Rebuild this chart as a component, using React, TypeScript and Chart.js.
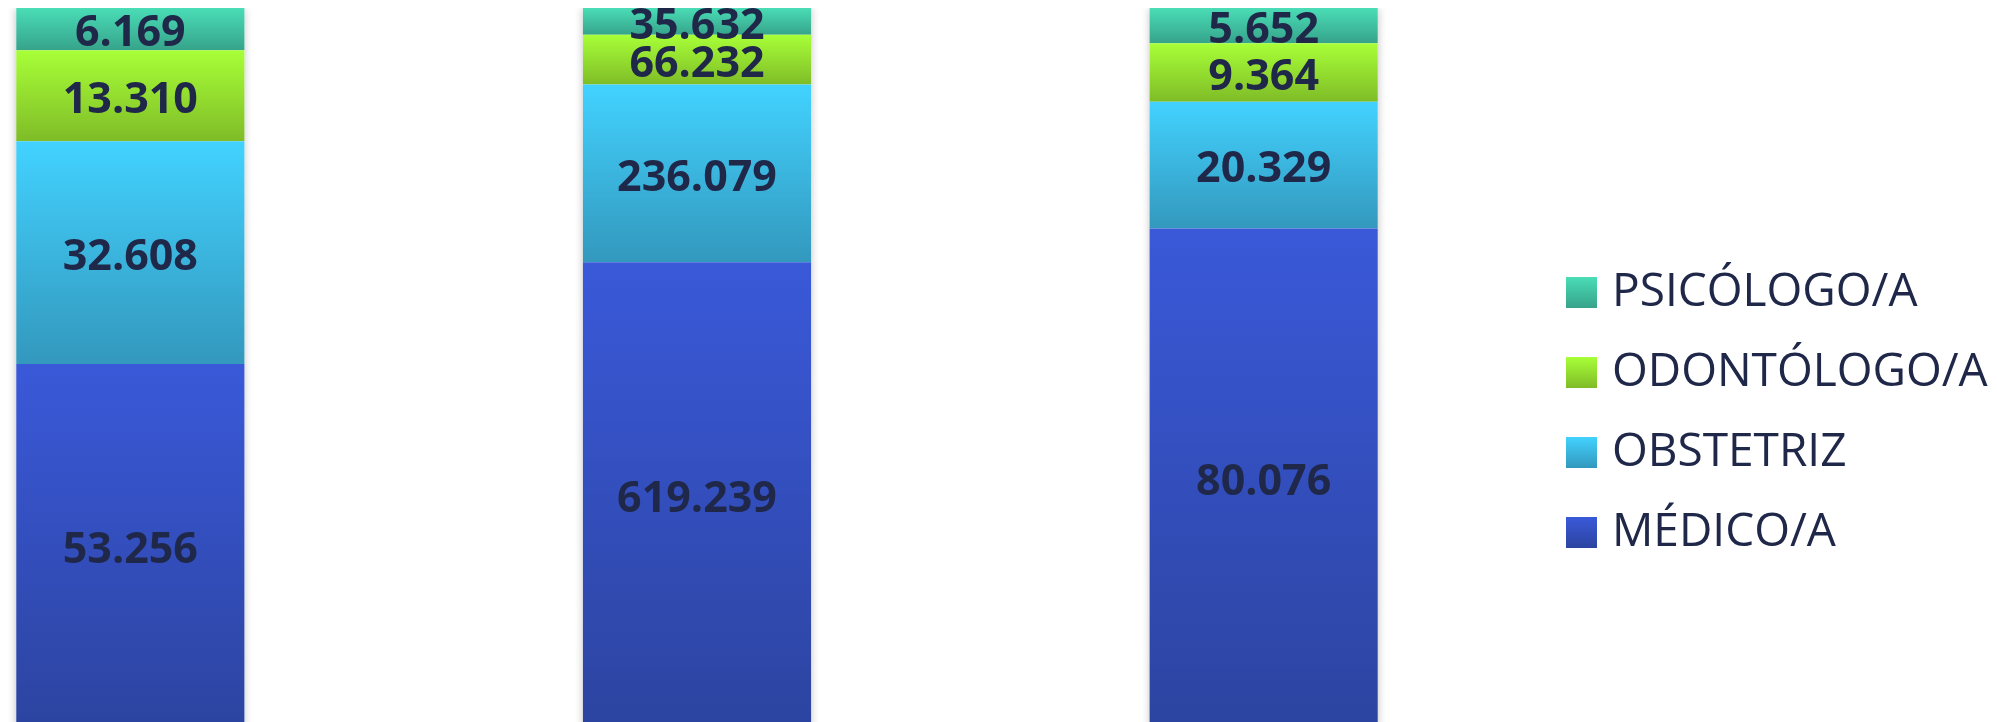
import React, { useEffect, useRef } from "react";
import { Chart, registerables } from "chart.js";

Chart.register(...registerables);

const categories = ["A", "B", "C"];
const seriesNames = ["MÉDICO/A", "OBSTETRIZ", "ODONTÓLOGO/A", "PSICÓLOGO/A"];
const medico = [53256, 619239, 80076];
const obstetriz = [32608, 236079, 20329];
const odontologo = [13310, 66232, 9364];
const psicologo = [6169, 35632, 5652];
const topColors = ["#3A59D9", "#42D2FF", "#A8FF38", "#4ADDB6"];
const bottomColors = ["#2C44A0", "#3398BD", "#7FBC27", "#36A38B"];

const rawSeries = [medico, obstetriz, odontologo, psicologo];
const totals = categories.map((_, i) => rawSeries.reduce((s, a) => s + a[i], 0));
const pctSeries = rawSeries.map((arr) => arr.map((v, i) => (v / totals[i]) * 100));

const fmt = (v: number) => {
  const s = String(Math.round(v));
  return s.replace(/\B(?=(\d{3})+(?!\d))/g, ".");
};

const CANVAS_W = 2200;
const CANVAS_H = 809;
const PLOT_W = 1700;
const LEGEND_FONT = 46;
const LEGEND_PAD = 34;
const POINT_W = 8;

function makeLegendImage(d: number): HTMLCanvasElement {
  const c = document.createElement("canvas");
  c.width = 40;
  c.height = 31;
  const g = c.getContext("2d")!;
  const grad = g.createLinearGradient(0, 0, 0, 31);
  grad.addColorStop(0, topColors[d]);
  grad.addColorStop(1, bottomColors[d]);
  g.fillStyle = grad;
  g.fillRect(1, 0, 31, 31);
  return c;
}

export default function App() {
  const ref = useRef<HTMLCanvasElement | null>(null);

  useEffect(() => {
    if (!ref.current) return;
    const images = seriesNames.map((_, d) => makeLegendImage(d));

    const mctx = document.createElement("canvas").getContext("2d")!;
    mctx.font = `normal ${LEGEND_FONT}px 'Open Sans'`;
    const maxText = Math.max(...seriesNames.map((s) => mctx.measureText(s).width));
    const legendW = LEGEND_PAD + POINT_W + LEGEND_FONT / 2 + maxText + 10;
    const padRight = Math.max(0, CANVAS_W - PLOT_W - legendW);

    const shadowPlugin = {
      id: "barShadow",
      beforeDatasetsDraw(chart: any) {
        const ctx = chart.ctx;
        const first = chart.getDatasetMeta(0);
        const last = chart.getDatasetMeta(seriesNames.length - 1);
        ctx.save();
        ctx.shadowColor = "rgba(0,0,0,0.28)";
        ctx.shadowBlur = 9;
        ctx.fillStyle = "#ffffff";
        first.data.forEach((el: any, i: number) => {
          const top = last.data[i].y;
          const bottom = el.base;
          ctx.fillRect(el.x - el.width / 2, top, el.width, bottom - top);
        });
        ctx.restore();
      },
    };

    const labelPlugin = {
      id: "valueLabels",
      afterDatasetsDraw(chart: any) {
        const ctx = chart.ctx;
        ctx.save();
        ctx.font = "bold 43px 'Open Sans'";
        ctx.fillStyle = "#20284A";
        ctx.textAlign = "center";
        ctx.textBaseline = "middle";
        rawSeries.forEach((arr, d) => {
          const meta = chart.getDatasetMeta(d);
          meta.data.forEach((el: any, i: number) => {
            const p = el.getCenterPoint();
            ctx.fillText(fmt(arr[i]), p.x, p.y + 5);
          });
        });
        ctx.restore();
      },
    };

    const chart = new Chart(ref.current, {
      type: "bar",
      data: {
        labels: categories,
        datasets: seriesNames.map((name, d) => ({
          label: name,
          data: pctSeries[d],
          borderWidth: 0,
          backgroundColor: (c: any) => {
            const ch = c.chart;
            const y = ch.scales && ch.scales.y;
            if (!y || c.type !== "data") return topColors[d];
            const i = c.dataIndex;
            let base = 0;
            for (let k = 0; k < d; k++) base += pctSeries[k][i];
            const y0 = y.getPixelForValue(base + pctSeries[d][i]);
            const y1 = y.getPixelForValue(base);
            if (!isFinite(y0) || !isFinite(y1) || y0 === y1) return topColors[d];
            const g = ch.ctx.createLinearGradient(0, y0, 0, y1);
            g.addColorStop(0, topColors[d]);
            g.addColorStop(1, bottomColors[d]);
            return g;
          },
        })),
      },
      options: {
        animation: false,
        responsive: false,
        maintainAspectRatio: false,
        layout: { padding: { left: 0, top: 0, bottom: 0, right: padRight } },
        datasets: {
          bar: { categoryPercentage: 1, barPercentage: 0.4026 },
        },
        scales: {
          x: { stacked: true, display: false },
          y: { stacked: true, display: false, min: -12.36, max: 100 },
        },
        plugins: {
          tooltip: { enabled: false },
          legend: {
            display: true,
            position: "right",
            align: "center",
            reverse: true,
            maxWidth: 1000,
            labels: {
              usePointStyle: true,
              pointStyleWidth: POINT_W,
              boxHeight: 31,
              padding: LEGEND_PAD,
              color: "#20284A",
              font: { family: "'Open Sans'", size: LEGEND_FONT },
              generateLabels: (ch: any) => {
                const items = Chart.defaults.plugins.legend.labels.generateLabels(ch);
                return items.map((it: any) => ({
                  ...it,
                  pointStyle: images[it.datasetIndex],
                  fillStyle: topColors[it.datasetIndex],
                  strokeStyle: "rgba(0,0,0,0)",
                  lineWidth: 0,
                }));
              },
            },
          },
        },
      } as any,
      plugins: [shadowPlugin, labelPlugin],
    });
    return () => chart.destroy();
  }, []);

  return (
    <div
      style={{
        position: "fixed",
        left: 0,
        top: 0,
        width: 1997,
        height: 722,
        overflow: "hidden",
        background: "#ffffff",
      }}
    >
      <div style={{ position: "absolute", left: -153, top: 8, width: CANVAS_W, height: CANVAS_H }}>
        <canvas
          ref={ref}
          width={CANVAS_W}
          height={CANVAS_H}
          style={{ width: CANVAS_W, height: CANVAS_H, display: "block" }}
        />
      </div>
    </div>
  );
}
